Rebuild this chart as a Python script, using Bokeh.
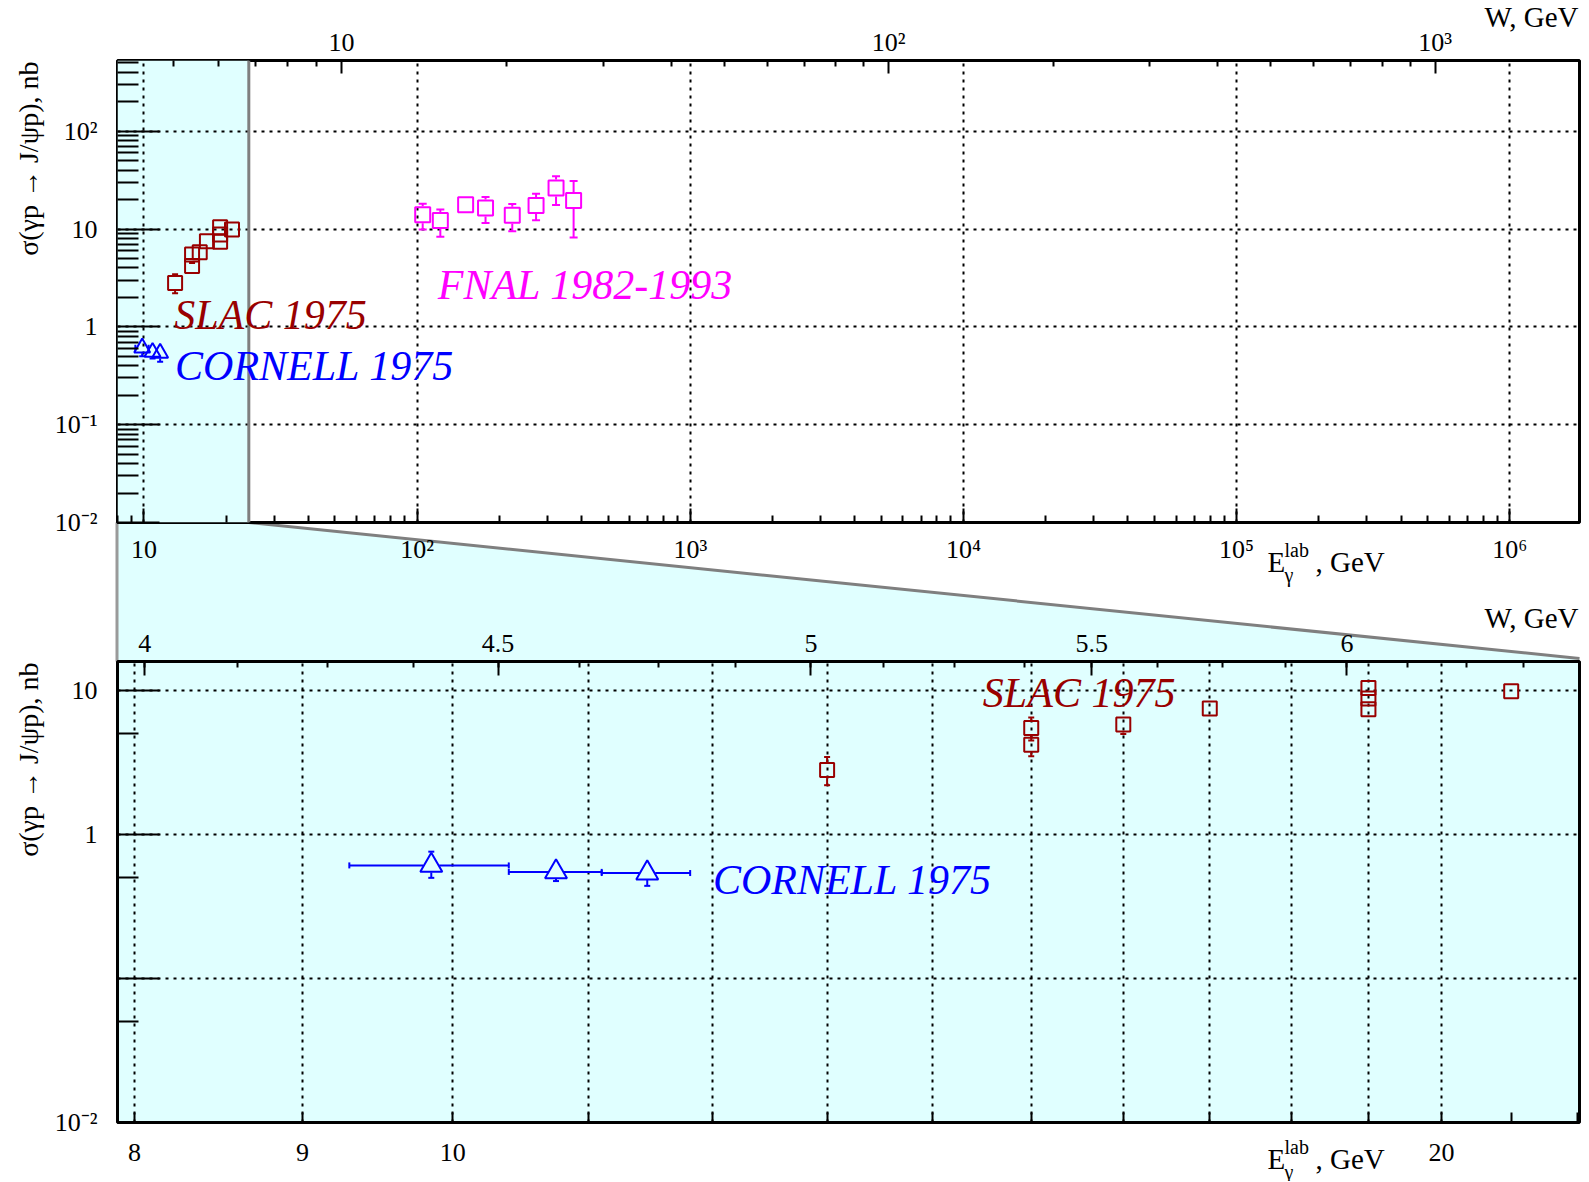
import math
from bokeh.plotting import figure
from bokeh.layouts import column
from bokeh.models import (LogAxis, FixedTicker, CustomJSTickFormatter, BoxAnnotation, Span,
                          Label, Range1d)
from bokeh.embed import file_html
from bokeh.resources import INLINE

FONT = "Liberation Serif"
MP = 0.938272
C_SLAC = "#990000"
C_CORN = "#0000ff"
C_FNAL = "#ff00ff"
CYAN = "#e0ffff"
GRAY = "#7f7f7f"

# ---------------- data ----------------
slac_E = [13, 15, 15, 16, 17, 19, 19, 19, 21]
slac_sigma = [2.8, 5.5, 4.2, 5.8, 7.5, 10.4, 8.8, 7.4, 9.9]
slac_err_up = [0.65, 1.0, 0.7, 0.72, 0.5, 0.6, 0.5, 0.5, 0.5]
slac_err_dn = [0.6, 1.0, 0.7, 0.81, 0.5, 0.6, 0.5, 0.5, 0.5]

cornell_E = [9.85, 10.75, 11.46]
cornell_E_lo = [9.30, 10.40, 11.10]
cornell_E_hi = [10.40, 11.10, 11.81]
cornell_sigma = [0.61, 0.55, 0.54]
cornell_err_up = [0.15, 0.07, 0.11]
cornell_err_dn = [0.11, 0.075, 0.10]

fnal_E = [104.8, 121.6, 150.5, 178.0, 223.0, 272.5, 322.5, 374.0]
fnal_sigma = [14.0, 12.2, 17.7, 16.4, 13.8, 17.4, 26.2, 19.6]
fnal_err_up = [4.1, 3.6, 1.5, 4.8, 4.2, 5.6, 8.5, 11.3]
fnal_err_dn = [4.1, 3.85, 1.5, 4.9, 4.3, 5.1, 8.6, 11.4]

# ---------------- ticks ----------------
TOP_X_MAJOR = [10, 1e2, 1e3, 1e4, 1e5, 1e6]
TOP_X_LABELS = ["10", "10²", "10³", "10⁴", "10⁵", "10⁶"]
TOP_Y_MAJOR = [0.01, 0.1, 1, 10, 100]
TOP_Y_LABELS = ["10⁻²", "10⁻¹", "1", "10", "10²"]
TOP_W_MAJOR = [10, 100, 1000]
TOP_W_LABELS = ["10", "10²", "10³"]
BOT_X_MAJOR = [8, 9, 10, 11, 12, 13, 14, 15, 16, 17, 18, 19, 20, 21, 22]
BOT_X_LABELS = ["8", "9", "10", "", "", "", "", "", "", "", "", "", "20", "", ""]
BOT_X_GRID = [8, 9, 10, 11, 12, 13, 14, 15, 16, 17, 18, 19, 20]
BOT_Y_MAJOR = [0.01, 0.1, 1, 10]
BOT_Y_LABELS = ["10⁻²", "", "1", "10"]
BOT_Y_MINOR = [0.05, 0.5, 5]
BOT_W_MAJOR = [4, 4.5, 5, 5.5, 6]
BOT_W_LABELS = ["4", "4.5", "5", "5.5", "6"]

ZOOM_HI = 24.2   # upper end of the shaded (zoomed) band in the overview


def w_to_e(w):
    return (w * w - MP * MP) / (2 * MP)


# ---------------- layout ----------------
WT = 1588
TOP_H = 590
BOT_H = 591
HT = TOP_H + BOT_H
TOP = dict(left=117, right=9, top=60, bottom=TOP_H - 60 - 462, fw=1462, fh=462,
           x0=8.0, x1=1.8e6, y0=0.01, y1=528.0, ox=0, oy=0)
BOT = dict(left=117, right=9, top=71, bottom=BOT_H - 71 - 461, fw=1462, fh=461,
           x0=7.905, x1=22.03, y0=0.01, y1=15.9, ox=0, oy=TOP_H)
TXT_SHIFT = 12   # empirical baseline correction of Label text (px)


def lg(v):
    return math.log10(v)


def x_to_px(F, x):
    fl = F["ox"] + F["left"]
    return fl + (lg(x) - lg(F["x0"])) / (lg(F["x1"]) - lg(F["x0"])) * F["fw"]


def px_per_dec_x(F):
    return F["fw"] / (lg(F["x1"]) - lg(F["x0"]))


def px_per_dec_y(F):
    return F["fh"] / (lg(F["y1"]) - lg(F["y0"]))


def labeler(vals, labs):
    return CustomJSTickFormatter(args=dict(vals=list(vals), labs=list(labs)), code="""
for (let i = 0; i < vals.length; i++) {
  if (Math.abs(vals[i] - tick) <= 1e-6 * Math.abs(vals[i])) { return labs[i]; }
}
return "";
""")


def style_axis(ax, major, minor, labs, tick_in, minor_in, standoff):
    ax.ticker = FixedTicker(ticks=list(major), minor_ticks=list(minor))
    ax.formatter = labeler(major, labs)
    ax.axis_line_color = None
    ax.major_tick_in = tick_in
    ax.major_tick_out = 0
    ax.minor_tick_in = minor_in
    ax.minor_tick_out = 0
    ax.major_tick_line_width = 2
    ax.minor_tick_line_width = 2
    ax.major_tick_line_color = "black"
    ax.minor_tick_line_color = "black"
    ax.major_label_text_font = FONT
    ax.major_label_text_font_size = "26px"
    ax.major_label_text_color = "black"
    ax.major_label_standoff = standoff


def make_fig(F, bg):
    p = figure(x_axis_type="log", y_axis_type="log", title=None,
               x_range=Range1d(F["x0"], F["x1"]), y_range=Range1d(F["y0"], F["y1"]),
               frame_width=F["fw"], frame_height=F["fh"],
               min_border_left=F["left"], min_border_right=F["right"],
               min_border_top=F["top"], min_border_bottom=F["bottom"],
               output_backend="svg", toolbar_location=None)
    p.background_fill_color = bg
    p.border_fill_color = None
    p.outline_line_color = "black"
    p.outline_line_width = 3
    for g in (p.xgrid[0], p.ygrid[0]):
        g.grid_line_color = "black"
        g.grid_line_dash = "3 5"
        g.grid_line_width = 2
    return p


def add_points(p, F, xs, ys, eup, edn, color, marker, size, cap,
               gap_up, gap_dn, gap_x=None, xlo=None, xhi=None):
    fu = 10 ** (gap_up / px_per_dec_y(F))
    fd = 10 ** (gap_dn / px_per_dec_y(F))
    sx0, sy0, sx1, sy1, cx, cy = [], [], [], [], [], []
    for x, y, u, d in zip(xs, ys, eup, edn):
        if y + u > y * fu:
            sx0.append(x); sy0.append(y * fu); sx1.append(x); sy1.append(y + u)
            cx.append(x); cy.append(y + u)
        if y - d < y / fd:
            sx0.append(x); sy0.append(y - d); sx1.append(x); sy1.append(y / fd)
            cx.append(x); cy.append(y - d)
    p.segment(sx0, sy0, sx1, sy1, line_color=color, line_width=2)
    p.scatter(cx, cy, marker="dash", size=cap, line_color=color, line_width=2)
    if xlo is not None:
        fx = 10 ** (gap_x / px_per_dec_x(F))
        hx0, hy0, hx1, hy1, kx, ky = [], [], [], [], [], []
        for x, y, lo, hi in zip(xs, ys, xlo, xhi):
            if hi > x * fx:
                hx0.append(x * fx); hy0.append(y); hx1.append(hi); hy1.append(y)
                kx.append(hi); ky.append(y)
            if lo < x / fx:
                hx0.append(lo); hy0.append(y); hx1.append(x / fx); hy1.append(y)
                kx.append(lo); ky.append(y)
        p.segment(hx0, hy0, hx1, hy1, line_color=color, line_width=2)
        p.scatter(kx, ky, marker="dash", angle=math.pi / 2, size=cap, line_color=color, line_width=2)
    p.scatter(xs, ys, marker=marker, size=size, fill_color=None, line_color=color, line_width=2)


def text(p, x, y, s, color, size, style="normal", align="left", baseline="alphabetic",
         angle=0.0, y_offset=0):
    p.add_layout(Label(x=x, y=y, text=s, text_color=color, text_font=FONT,
                       text_font_size=size, text_font_style=style, text_align=align,
                       text_baseline=baseline, angle=angle, y_offset=y_offset))


# ======================= top (overview) =======================
pt = make_fig(TOP, "white")
pt.xgrid[0].ticker = FixedTicker(ticks=TOP_X_MAJOR)
pt.ygrid[0].ticker = FixedTicker(ticks=TOP_Y_MAJOR)

top_x_minor = [m * 10 ** k for k in range(0, 7) for m in range(2, 10)]
top_y_minor = [m * 10 ** k for k in range(-2, 3) for m in range(2, 10)]
top_w_minor = [m * 10 ** k for k in range(0, 3) for m in range(2, 10) if m * 10 ** k >= 5]

style_axis(pt.xaxis[0], TOP_X_MAJOR, top_x_minor, TOP_X_LABELS, 14, 7, 12)
style_axis(pt.yaxis[0], TOP_Y_MAJOR, top_y_minor, TOP_Y_LABELS, 42, 21, 20)
ax_w_top = LogAxis()
pt.add_layout(ax_w_top, "above")
style_axis(ax_w_top, [w_to_e(w) for w in TOP_W_MAJOR], [w_to_e(w) for w in top_w_minor],
           TOP_W_LABELS, 13, 6, 4)

pt.add_layout(BoxAnnotation(left=TOP["x0"], right=ZOOM_HI, fill_color=CYAN, fill_alpha=1.0,
                            line_color=None, level="image"))
pt.add_layout(Span(location=ZOOM_HI, dimension="height", line_color=GRAY, line_width=3,
                   level="underlay"))

add_points(pt, TOP, cornell_E, cornell_sigma, cornell_err_up, cornell_err_dn, C_CORN,
           "triangle", 16, 6, 10, 5.5, gap_x=6, xlo=cornell_E_lo, xhi=cornell_E_hi)
add_points(pt, TOP, slac_E, slac_sigma, slac_err_up, slac_err_dn, C_SLAC,
           "square", 14, 6, 8, 8)
add_points(pt, TOP, fnal_E, fnal_sigma, fnal_err_up, fnal_err_dn, C_FNAL,
           "square", 15, 8, 8.5, 8.5)

text(pt, 12.9, 1.0, "SLAC 1975", C_SLAC, "42px", "italic", y_offset=TXT_SHIFT)
text(pt, 13.0, 0.30, "CORNELL 1975", C_CORN, "42px", "italic", y_offset=TXT_SHIFT)
text(pt, 119.0, 2.0, "FNAL 1982-1993", C_FNAL, "42px", "italic", y_offset=TXT_SHIFT)

# ======================= bottom (zoom) =======================
pb = make_fig(BOT, CYAN)
pb.xgrid[0].ticker = FixedTicker(ticks=BOT_X_GRID)
pb.ygrid[0].ticker = FixedTicker(ticks=BOT_Y_MAJOR)

bot_w_minor = [4 + 0.125 * k for k in range(-1, 20)]
style_axis(pb.xaxis[0], BOT_X_MAJOR, [], BOT_X_LABELS, 10, 0, 21)
style_axis(pb.yaxis[0], BOT_Y_MAJOR, BOT_Y_MINOR, BOT_Y_LABELS, 42, 21, 20)
ax_w_bot = LogAxis()
pb.add_layout(ax_w_bot, "above")
style_axis(ax_w_bot, [w_to_e(w) for w in BOT_W_MAJOR], [w_to_e(w) for w in bot_w_minor],
           BOT_W_LABELS, 14, 6, 10)

add_points(pb, BOT, cornell_E, cornell_sigma, cornell_err_up, cornell_err_dn, C_CORN,
           "triangle", 22, 6, 13.5, 7, gap_x=8, xlo=cornell_E_lo, xhi=cornell_E_hi)
add_points(pb, BOT, slac_E, slac_sigma, slac_err_up, slac_err_dn, C_SLAC,
           "square", 14, 6, 8, 8)

text(pb, 14.5, 7.95, "SLAC 1975", C_SLAC, "42px", "italic", y_offset=TXT_SHIFT)
text(pb, 12.0, 0.396, "CORNELL 1975", C_CORN, "42px", "italic", y_offset=TXT_SHIFT)

panels = column(pt, pb, spacing=0,
                styles={"position": "absolute", "top": "0px", "left": "0px"})

# ======================= background canvas (wedge + axis titles) =======================
bg = figure(x_range=Range1d(0, WT), y_range=Range1d(HT, 0), width=WT, height=HT,
            min_border=0, title=None, x_axis_location=None, y_axis_location=None,
            output_backend="svg", toolbar_location=None)
bg.outline_line_color = None
bg.background_fill_color = "white"
bg.border_fill_color = "white"
for g in bg.grid:
    g.visible = False

L = TOP["left"]
Bx = x_to_px(TOP, ZOOM_HI)
By = TOP["oy"] + TOP["top"] + TOP["fh"]
Cx = BOT["ox"] + BOT["left"] + BOT["fw"]
Dy = BOT["oy"] + BOT["top"]
Cy = Dy - 3

bg.patch([L, Bx, Cx, Cx, L], [By, By, Cy, Dy, Dy], fill_color=CYAN, line_color=None)
bg.line([Bx, Cx], [By, Cy], line_color=GRAY, line_width=3)
bg.line([L - 0.5, L - 0.5], [By, Dy], line_color="#9a9a9a", line_width=3)

YTITLE = "σ(γp → J/ψp), nb"
for F in (TOP, BOT):
    ft = F["oy"] + F["top"]
    fr = F["ox"] + F["left"] + F["fw"]
    text(bg, 28, ft + 1, YTITLE, "black", "28px", align="right", baseline="middle",
         angle=math.pi / 2)
    text(bg, fr - 1, ft - 32, "W, GeV", "black", "29px", align="right", y_offset=TXT_SHIFT)

for F, base in ((TOP, 51), (BOT, 48)):
    fb = F["oy"] + F["top"] + F["fh"]
    text(bg, 1267, fb + base, "E", "black", "29px", y_offset=TXT_SHIFT)
    text(bg, 1284, fb + base - 12, "lab", "black", "20px", y_offset=TXT_SHIFT)
    text(bg, 1284, fb + base + 13, "γ", "black", "20px", y_offset=TXT_SHIFT)
    text(bg, 1315, fb + base, ", GeV", "black", "29px", y_offset=TXT_SHIFT)

open("out.html", "w").write(file_html([bg, panels], INLINE, title="J/psi photoproduction"))
